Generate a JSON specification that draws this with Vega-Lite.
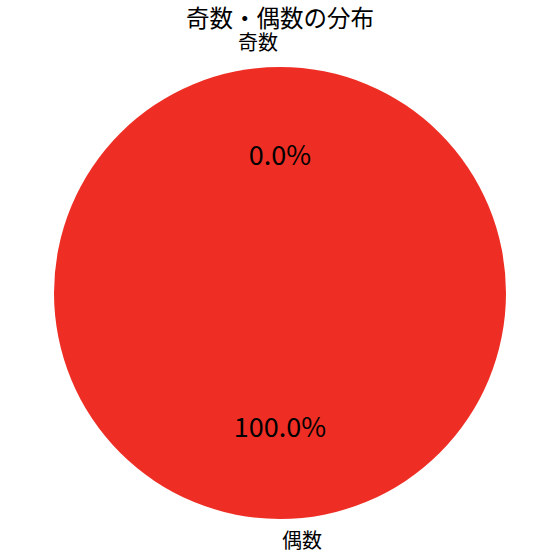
{
  "$schema": "https://vega.github.io/schema/vega-lite/v6.json",
  "width": 560,
  "height": 560,
  "autosize": "none",
  "padding": {"left": 0, "right": 0, "top": 13, "bottom": 0},
  "background": "white",
  "view": {"stroke": null},
  "title": {
    "text": "奇数・偶数の分布",
    "font": "Noto Sans CJK JP",
    "fontSize": 23.5,
    "fontWeight": "normal",
    "color": "black",
    "offset": -18,
    "anchor": "middle"
  },
  "data": {
    "values": [
      {"label": "奇数", "count": 0, "pct": "0.0%"},
      {"label": "偶数", "count": 100, "pct": "100.0%"}
    ]
  },
  "encoding": {
    "theta": {"field": "count", "type": "quantitative", "stack": true, "sort": null},
    "order": {"field": "count", "type": "quantitative"}
  },
  "layer": [
    {
      "mark": {"type": "arc", "outerRadius": 226, "stroke": null},
      "encoding": {
        "color": {
          "field": "label",
          "type": "nominal",
          "scale": {"domain": ["奇数", "偶数"], "range": ["#1f77b4", "#ee2e24"]},
          "legend": null
        }
      }
    },
    {
      "mark": {"type": "text", "radius": 135.6, "font": "Noto Sans CJK JP", "fontSize": 27, "color": "black", "baseline": "middle", "align": "center"},
      "encoding": {"text": {"field": "pct", "type": "nominal"}}
    },
    {
      "transform": [{"filter": "datum.label == '奇数'"}],
      "mark": {"type": "text", "radius": 248.6, "font": "Noto Sans CJK JP", "fontSize": 20, "color": "black", "baseline": "middle", "align": "right", "dx": -2},
      "encoding": {"text": {"field": "label", "type": "nominal"}}
    },
    {
      "transform": [{"filter": "datum.label == '偶数'"}],
      "mark": {"type": "text", "radius": 248.6, "font": "Noto Sans CJK JP", "fontSize": 20, "color": "black", "baseline": "middle", "align": "left", "dx": 2},
      "encoding": {"text": {"field": "label", "type": "nominal"}}
    }
  ]
}
